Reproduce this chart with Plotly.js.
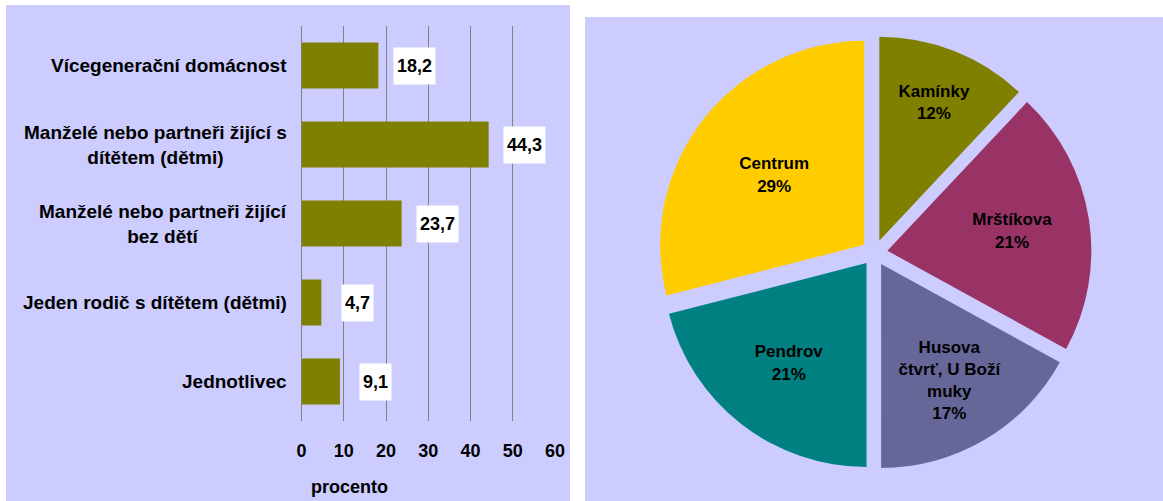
<!DOCTYPE html>
<html>
<head>
<meta charset="utf-8">
<script src="https://cdn.plot.ly/plotly-3.0.1.min.js"></script>
<style>html,body{margin:0;padding:0;background:#fff;}#chart{width:1163px;height:501px;}</style>
</head>
<body>
<div id="chart"></div>
<script>
// ---- data ----
var barCategories = [
  'Vícegenerační domácnost',
  'Manželé nebo partneři žijící s<br>dítětem (dětmi)',
  'Manželé nebo partneři žijící<br>bez dětí',
  'Jeden rodič s dítětem (dětmi)',
  'Jednotlivec'
];
var barValues = [18.2, 44.3, 23.7, 4.7, 9.1];
var barLabels = ['18,2', '44,3', '23,7', '4,7', '9,1'];
var xTickVals = [0, 10, 20, 30, 40, 50, 60];
var xAxisTitle = 'procento';

var pieLabels = ['Kamínky', 'Mrštíkova', 'Husova<br>čtvrť, U Boží<br>muky', 'Pendrov', 'Centrum'];
var pieValues = [12, 21, 17, 21, 29];
var pieColors = ['#808000', '#993366', '#666699', '#008080', '#FFCC00'];

// ---- figure ----
var W = 1163, H = 501;
var FONT = 'Liberation Sans, Arial, sans-serif';
function px(x) { return x / W; }
function py(y) { return (H - y) / H; }

var barTrace = {
  type: 'bar',
  orientation: 'h',
  x: barValues,
  y: barCategories,
  marker: { color: '#808000', line: { width: 0 } },
  width: 0.58,
  hoverinfo: 'none',
  xaxis: 'x', yaxis: 'y'
};

var pieTrace = {
  type: 'pie',
  labels: pieLabels,
  values: pieValues,
  sort: false,
  direction: 'clockwise',
  rotation: 0,
  pull: pieValues.map(function () { return 0.064; }),
  marker: { colors: pieColors, line: { width: 0 } },
  textinfo: 'label+percent',
  textposition: 'inside',
  insidetextorientation: 'horizontal',
  insidetextfont: { family: FONT, size: 17, color: '#000', weight: 'bold' },
  domain: { x: [px(624.5), px(1124.5)], y: [py(469.8), py(35.8)] },
  hoverinfo: 'none',
  showlegend: false
};

var annotations = [];
barCategories.forEach(function (c, i) {
  annotations.push({
    xref: 'paper', yref: 'y', x: px(301.5), y: c,
    xanchor: 'right', yanchor: 'middle', xshift: -13,
    text: c, align: 'center', showarrow: false,
    font: { family: FONT, size: 19, color: '#000', weight: 'bold' }
  });
  annotations.push({
    xref: 'x', yref: 'y', x: barValues[i], y: c,
    xanchor: 'center', yanchor: 'middle', xshift: 36,
    text: barLabels[i], showarrow: false,
    bgcolor: '#ffffff', borderpad: 3, height: 30,
    font: { family: FONT, size: 18, color: '#000', weight: 'bold' }
  });
});
annotations.push({
  xref: 'paper', yref: 'paper', x: px(349), y: py(487),
  xanchor: 'center', yanchor: 'middle', text: xAxisTitle, showarrow: false,
  font: { family: FONT, size: 18, color: '#000', weight: 'bold' }
});

var layout = {
  width: W, height: H,
  margin: { l: 0, r: 0, t: 0, b: 0, pad: 0 },
  paper_bgcolor: '#ffffff',
  plot_bgcolor: 'rgba(0,0,0,0)',
  showlegend: false,
  bargap: 0.42,
  xaxis: {
    domain: [px(301.5), px(555)],
    range: [0, 60],
    tickvals: xTickVals,
    ticktext: xTickVals.map(String),
    showgrid: true, gridcolor: '#808080', gridwidth: 1,
    zeroline: true, zerolinecolor: '#808080', zerolinewidth: 1,
    showline: false, ticks: '',
    ticklabelstandoff: 17,
    tickfont: { family: FONT, size: 18, color: '#000', weight: 'bold' },
    fixedrange: true
  },
  yaxis: {
    domain: [py(421), py(26)],
    type: 'category',
    autorange: 'reversed',
    showticklabels: false, showgrid: false, zeroline: false, showline: false, ticks: '',
    fixedrange: true
  },
  shapes: [
    { type: 'rect', xref: 'paper', yref: 'paper', x0: px(6), x1: px(570), y0: 0, y1: py(5),
      fillcolor: '#CCCCFF', line: { width: 0 }, layer: 'below' },
    { type: 'rect', xref: 'paper', yref: 'paper', x0: px(585), x1: 1, y0: 0, y1: py(17),
      fillcolor: '#CCCCFF', line: { width: 0 }, layer: 'below' }
  ],
  annotations: annotations
};

Plotly.newPlot('chart', [barTrace, pieTrace], layout, { staticPlot: true, displayModeBar: false });
</script>
</body>
</html>
